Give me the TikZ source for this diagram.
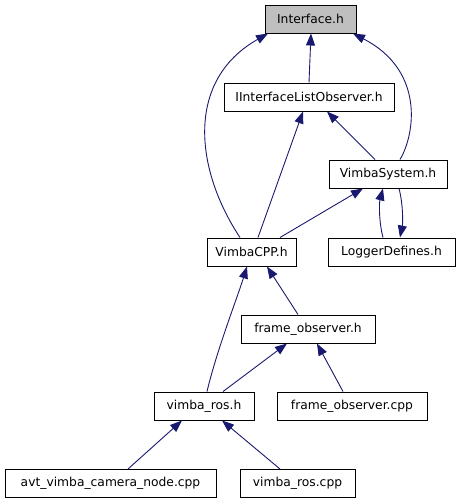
\documentclass[tikz,border=0pt]{standalone}
\usepackage{fontspec}
\setmainfont{DejaVu Sans}
\usetikzlibrary{arrows.meta}

\definecolor{edgeblue}{HTML}{191970}
\definecolor{focusgray}{HTML}{BFBFBF}

\begin{document}
\begin{tikzpicture}[
            x=1pt,
            y=-1pt,
            semithick
        ]

        \tikzstyle{file}=[
            draw=black,
            line width=1pt,
            shape=rectangle,
            fill=white,
            minimum height=28pt,
            inner sep=0pt,
            font=\fontsize{12.3}{14}\selectfont
        ]
        \tikzstyle{inc}=[
            draw=edgeblue,
            line width=0.9pt,
            -{Triangle[length=12pt,width=9pt]}
        ]

        \useasboundingbox[fill=white] (0,0) rectangle (460,504);

        % include graph of Interface.h
        \node[file, fill=focusgray, minimum width=91pt] (iface) at (310.5,19) {Interface.h};
        \node[file, minimum width=170pt] (lstobs) at (309,97) {IInterfaceListObserver.h};
        \node[file, minimum width=118pt] (vsys) at (388,174) {VimbaSystem.h};
        \node[file, minimum width=89pt] (vcpp) at (251.5,252) {VimbaCPP.h};
        \node[file, minimum width=127pt] (logdef) at (391.5,252) {LoggerDefines.h};
        \node[file, minimum width=134pt] (frobs) at (308,329) {frame\_observer.h};
        \node[file, minimum width=100pt] (vros) at (204,406) {vimba\_ros.h};
        \node[file, minimum width=150pt] (frcpp) at (352,406) {frame\_observer.cpp};
        \node[file, minimum width=211pt] (avtnode) at (110.5,483.5) {avt\_vimba\_camera\_node.cpp};
        \node[file, minimum width=115pt] (vroscpp) at (297.5,483.5) {vimba\_ros.cpp};

        \draw[inc] (lstobs.north) -- ([xshift=0.5pt]iface.south);
        \draw[inc] ([xshift=-11.5pt]vcpp.north) .. controls +(-45,-68) and +(-83,47) .. ([xshift=-42.5pt]iface.south);
        \draw[inc] ([xshift=12pt]vsys.north) .. controls +(15,-25) and +(72,37) .. ([xshift=42.5pt]iface.south);
        \draw[inc] ([xshift=6.5pt]vcpp.north) -- ([xshift=-6pt]lstobs.south);
        \draw[inc] ([xshift=-13pt]vsys.north) -- ([xshift=18pt]lstobs.south);
        \draw[inc] ([xshift=28.5pt]vcpp.north) -- ([xshift=-25pt]vsys.south);
        \draw[inc] ([xshift=-8.5pt]logdef.north) .. controls +(-4,-15) and +(-4,15) .. ([xshift=-5pt]vsys.south);
        \draw[inc] ([xshift=11pt]vsys.south) .. controls +(4,15) and +(3,-15) .. ([xshift=8.5pt]logdef.north);
        \draw[inc] ([xshift=-10pt]frobs.north) -- ([xshift=15.5pt]vcpp.south);
        \draw[inc] ([xshift=3pt]vros.north) .. controls +(10,-42) and +(-10,32) .. ([xshift=-4.5pt]vcpp.south);
        \draw[inc] ([xshift=19pt]vros.north) -- ([xshift=-21pt]frobs.south);
        \draw[inc] ([xshift=-9pt]frcpp.north) -- ([xshift=9pt]frobs.south);
        \draw[inc] ([xshift=17.5pt]avtnode.north) -- ([xshift=-22pt]vros.south);
        \draw[inc] ([xshift=-17.5pt]vroscpp.north) -- ([xshift=18pt]vros.south);

    \end{tikzpicture}
\end{document}
